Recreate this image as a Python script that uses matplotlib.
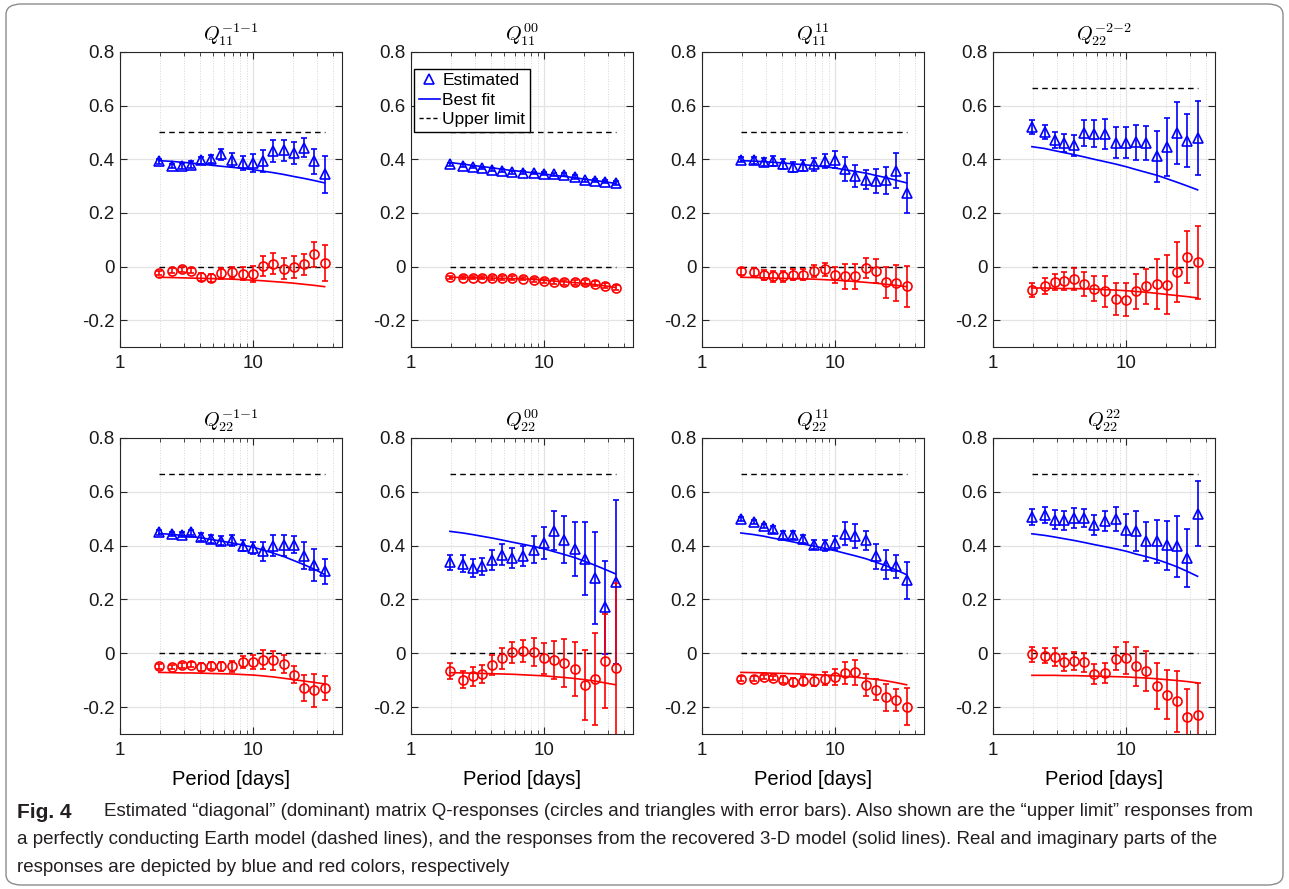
import matplotlib

matplotlib.use("Agg")
import matplotlib.pyplot as plt
from matplotlib.patches import FancyBboxPatch
from matplotlib.ticker import FixedLocator, FuncFormatter, NullFormatter

# periods of the estimated responses [days]
period = [1.96, 2.45, 2.91, 3.40, 4.09, 4.81, 5.75, 6.95, 8.36, 10.05, 11.8, 14.2, 17.1, 20.1, 23.9, 28.6, 34.4]

titles = [
    r"$Q_{11}^{-1{-}1}$", r"$Q_{11}^{00}$", r"$Q_{11}^{11}$", r"$Q_{22}^{-2{-}2}$",
    r"$Q_{22}^{-1{-}1}$", r"$Q_{22}^{00}$", r"$Q_{22}^{11}$", r"$Q_{22}^{22}$",
]

upper_limit = [0.5, 0.5, 0.5, 0.667, 0.667, 0.667, 0.667, 0.667]

# real part (blue triangles), one list per panel
re_est = [
    [0.392, 0.375, 0.375, 0.380, 0.396, 0.401, 0.418, 0.398, 0.387, 0.387, 0.393, 0.431, 0.433, 0.423, 0.443, 0.393, 0.344],
    [0.381, 0.376, 0.371, 0.367, 0.361, 0.357, 0.351, 0.350, 0.349, 0.346, 0.344, 0.342, 0.334, 0.321, 0.320, 0.316, 0.311],
    [0.398, 0.396, 0.390, 0.393, 0.383, 0.371, 0.376, 0.381, 0.393, 0.399, 0.365, 0.337, 0.324, 0.319, 0.321, 0.358, 0.274],
    [0.520, 0.501, 0.473, 0.460, 0.452, 0.498, 0.495, 0.495, 0.462, 0.462, 0.464, 0.460, 0.411, 0.445, 0.498, 0.470, 0.479],
    [0.449, 0.443, 0.441, 0.449, 0.433, 0.426, 0.418, 0.420, 0.400, 0.391, 0.379, 0.400, 0.401, 0.404, 0.363, 0.327, 0.304],
    [0.338, 0.333, 0.317, 0.323, 0.347, 0.367, 0.354, 0.361, 0.385, 0.410, 0.456, 0.422, 0.389, 0.351, 0.281, 0.171, 0.265],
    [0.499, 0.487, 0.472, 0.460, 0.441, 0.441, 0.426, 0.404, 0.401, 0.410, 0.445, 0.437, 0.420, 0.360, 0.329, 0.323, 0.271],
    [0.506, 0.515, 0.497, 0.494, 0.503, 0.503, 0.478, 0.491, 0.499, 0.459, 0.453, 0.416, 0.416, 0.401, 0.398, 0.354, 0.518],
]
re_err = [
    [0.008, 0.008, 0.010, 0.012, 0.012, 0.015, 0.022, 0.026, 0.027, 0.034, 0.040, 0.042, 0.040, 0.040, 0.035, 0.047, 0.068],
    [0.005, 0.005, 0.005, 0.005, 0.005, 0.005, 0.005, 0.005, 0.005, 0.006, 0.006, 0.006, 0.006, 0.006, 0.006, 0.006, 0.007],
    [0.010, 0.012, 0.015, 0.018, 0.018, 0.020, 0.020, 0.025, 0.027, 0.030, 0.045, 0.040, 0.035, 0.043, 0.052, 0.065, 0.076],
    [0.025, 0.025, 0.030, 0.034, 0.040, 0.047, 0.050, 0.057, 0.059, 0.059, 0.065, 0.064, 0.094, 0.109, 0.114, 0.098, 0.137],
    [0.008, 0.008, 0.008, 0.008, 0.015, 0.015, 0.017, 0.020, 0.020, 0.022, 0.035, 0.039, 0.038, 0.030, 0.050, 0.060, 0.046],
    [0.028, 0.031, 0.032, 0.032, 0.036, 0.040, 0.036, 0.038, 0.051, 0.058, 0.072, 0.087, 0.100, 0.135, 0.171, 0.173, 0.305],
    [0.008, 0.008, 0.008, 0.012, 0.015, 0.015, 0.015, 0.017, 0.020, 0.025, 0.042, 0.045, 0.035, 0.046, 0.053, 0.042, 0.068],
    [0.029, 0.030, 0.037, 0.035, 0.037, 0.034, 0.037, 0.037, 0.045, 0.059, 0.074, 0.073, 0.080, 0.092, 0.113, 0.107, 0.121],
]
re_fit = [
    [0.395, 0.392, 0.389, 0.386, 0.382, 0.378, 0.374, 0.370, 0.366, 0.361, 0.356, 0.350, 0.343, 0.336, 0.329, 0.321, 0.312],
    [0.388, 0.382, 0.377, 0.373, 0.368, 0.363, 0.358, 0.354, 0.349, 0.345, 0.340, 0.336, 0.331, 0.326, 0.321, 0.316, 0.310],
    [0.395, 0.393, 0.391, 0.389, 0.386, 0.383, 0.380, 0.376, 0.372, 0.367, 0.361, 0.355, 0.348, 0.340, 0.332, 0.322, 0.312],
    [0.447, 0.440, 0.432, 0.425, 0.417, 0.409, 0.400, 0.391, 0.382, 0.372, 0.362, 0.351, 0.340, 0.328, 0.315, 0.301, 0.286],
    [0.445, 0.442, 0.438, 0.434, 0.429, 0.423, 0.417, 0.410, 0.402, 0.394, 0.384, 0.372, 0.359, 0.345, 0.330, 0.313, 0.293],
    [0.453, 0.447, 0.441, 0.435, 0.428, 0.421, 0.413, 0.405, 0.397, 0.388, 0.378, 0.367, 0.355, 0.342, 0.328, 0.312, 0.295],
    [0.447, 0.441, 0.435, 0.428, 0.421, 0.414, 0.406, 0.398, 0.390, 0.381, 0.372, 0.362, 0.351, 0.339, 0.326, 0.310, 0.292],
    [0.444, 0.438, 0.432, 0.426, 0.419, 0.412, 0.404, 0.396, 0.388, 0.379, 0.369, 0.359, 0.348, 0.336, 0.322, 0.305, 0.286],
]

# imaginary part (red circles), one list per panel
im_est = [
    [-0.023, -0.015, -0.011, -0.015, -0.040, -0.042, -0.025, -0.022, -0.027, -0.027, 0.001, 0.011, -0.008, -0.002, 0.008, 0.045, 0.013],
    [-0.040, -0.041, -0.042, -0.042, -0.043, -0.043, -0.043, -0.045, -0.050, -0.054, -0.056, -0.059, -0.059, -0.059, -0.064, -0.071, -0.079],
    [-0.018, -0.021, -0.031, -0.037, -0.037, -0.031, -0.031, -0.018, -0.011, -0.033, -0.037, -0.037, -0.006, -0.017, -0.058, -0.062, -0.074],
    [-0.087, -0.073, -0.058, -0.054, -0.046, -0.064, -0.083, -0.093, -0.120, -0.124, -0.093, -0.074, -0.064, -0.067, -0.021, 0.035, 0.016],
    [-0.049, -0.052, -0.045, -0.042, -0.052, -0.046, -0.049, -0.049, -0.032, -0.032, -0.024, -0.026, -0.040, -0.079, -0.129, -0.138, -0.129],
    [-0.067, -0.098, -0.086, -0.077, -0.045, -0.019, 0.003, 0.007, 0.004, -0.019, -0.025, -0.037, -0.058, -0.118, -0.096, -0.030, -0.053],
    [-0.094, -0.094, -0.089, -0.091, -0.098, -0.106, -0.102, -0.102, -0.094, -0.088, -0.073, -0.071, -0.117, -0.135, -0.164, -0.173, -0.198],
    [-0.004, -0.010, -0.013, -0.034, -0.029, -0.034, -0.077, -0.074, -0.020, -0.018, -0.049, -0.065, -0.123, -0.154, -0.179, -0.238, -0.231],
]
im_err = [
    [0.008, 0.008, 0.008, 0.008, 0.015, 0.015, 0.020, 0.020, 0.025, 0.030, 0.037, 0.040, 0.040, 0.042, 0.040, 0.045, 0.068],
    [0.006, 0.006, 0.006, 0.006, 0.006, 0.007, 0.007, 0.007, 0.008, 0.008, 0.008, 0.009, 0.009, 0.009, 0.010, 0.010, 0.010],
    [0.012, 0.015, 0.018, 0.020, 0.020, 0.020, 0.020, 0.022, 0.025, 0.030, 0.045, 0.045, 0.037, 0.045, 0.058, 0.068, 0.077],
    [0.025, 0.030, 0.031, 0.033, 0.042, 0.044, 0.047, 0.056, 0.059, 0.061, 0.067, 0.065, 0.093, 0.109, 0.113, 0.098, 0.136],
    [0.008, 0.008, 0.008, 0.008, 0.015, 0.012, 0.017, 0.020, 0.022, 0.027, 0.035, 0.035, 0.033, 0.030, 0.050, 0.060, 0.045],
    [0.030, 0.032, 0.034, 0.033, 0.037, 0.039, 0.039, 0.041, 0.051, 0.058, 0.072, 0.089, 0.100, 0.131, 0.170, 0.175, 0.313],
    [0.008, 0.008, 0.008, 0.008, 0.012, 0.015, 0.017, 0.020, 0.023, 0.030, 0.042, 0.046, 0.041, 0.040, 0.051, 0.040, 0.068],
    [0.027, 0.028, 0.034, 0.033, 0.035, 0.035, 0.037, 0.038, 0.044, 0.059, 0.074, 0.074, 0.085, 0.091, 0.113, 0.107, 0.120],
]
im_fit = [
    [-0.040, -0.041, -0.042, -0.043, -0.044, -0.045, -0.046, -0.047, -0.049, -0.051, -0.053, -0.056, -0.059, -0.062, -0.066, -0.070, -0.075],
    [-0.040, -0.041, -0.042, -0.042, -0.043, -0.044, -0.045, -0.046, -0.048, -0.051, -0.054, -0.057, -0.060, -0.063, -0.067, -0.072, -0.078],
    [-0.040, -0.041, -0.042, -0.043, -0.044, -0.045, -0.046, -0.047, -0.049, -0.051, -0.053, -0.056, -0.059, -0.062, -0.066, -0.070, -0.075],
    [-0.080, -0.080, -0.081, -0.082, -0.082, -0.083, -0.084, -0.086, -0.088, -0.090, -0.093, -0.096, -0.100, -0.104, -0.108, -0.112, -0.117],
    [-0.071, -0.072, -0.073, -0.073, -0.074, -0.075, -0.076, -0.077, -0.079, -0.081, -0.084, -0.088, -0.093, -0.098, -0.103, -0.108, -0.114],
    [-0.072, -0.073, -0.074, -0.075, -0.076, -0.077, -0.078, -0.080, -0.082, -0.084, -0.087, -0.090, -0.094, -0.098, -0.103, -0.110, -0.117],
    [-0.071, -0.072, -0.073, -0.074, -0.075, -0.076, -0.077, -0.079, -0.081, -0.083, -0.086, -0.089, -0.093, -0.097, -0.102, -0.109, -0.117],
    [-0.082, -0.082, -0.082, -0.083, -0.083, -0.084, -0.085, -0.086, -0.087, -0.088, -0.090, -0.092, -0.095, -0.098, -0.101, -0.105, -0.110],
]

caption_lines = [
    "Estimated \u201cdiagonal\u201d (dominant) matrix Q-responses (circles and triangles with error bars). Also shown are the \u201cupper limit\u201d responses from",
    "a perfectly conducting Earth model (dashed lines), and the responses from the recovered 3-D model (solid lines). Real and imaginary parts of the",
    "responses are depicted by blue and red colors, respectively",
]

plt.rcParams["font.family"] = ["Liberation Sans", "DejaVu Sans"]
plt.rcParams["mathtext.fontset"] = "cm"

W, H = 1289, 889
fig = plt.figure(figsize=(W / 100, H / 100), dpi=100)

# rounded frame around the whole figure
frame = FancyBboxPatch(
    (6 / W, 4 / H), 1 - 12 / W, 1 - 8 / H,
    boxstyle="round,pad=0,rounding_size=0.012",
    transform=fig.transFigure, facecolor="none", edgecolor="#8c8c8c", lw=1.0,
)
fig.patches.append(frame)

lefts = [120, 411, 702, 993]
rows = [(52, 347), (438, 734)]
blue = (0, 0, 1)
red = (1, 0, 0)

for i in range(8):
    r, c = divmod(i, 4)
    top, bottom = rows[r]
    ax = fig.add_axes([lefts[c] / W, 1 - bottom / H, 222 / W, (bottom - top) / H])

    # grid like matlab
    ax.set_axisbelow(True)
    ax.yaxis.grid(True, color="#e3e3e3", lw=0.9)
    ax.xaxis.grid(True, which="major", color="#e3e3e3", lw=0.9)
    ax.xaxis.grid(True, which="minor", color="#d6d6d6", lw=0.7, linestyle=":")

    # upper limit
    ax.plot([period[0], period[-1]], [upper_limit[i]] * 2, "--", color="k", lw=1.0, dashes=(4, 3))
    ax.plot([period[0], period[-1]], [0, 0], "--", color="k", lw=1.0, dashes=(4, 3))

    # estimated responses
    ax.errorbar(period, re_est[i], yerr=re_err[i], fmt="^", color=blue, mfc="none", mec=blue,
                ms=6.5, mew=1.2, elinewidth=1.2, capsize=2, capthick=1.0, zorder=3)
    ax.errorbar(period, im_est[i], yerr=im_err[i], fmt="o", color=red, mfc="none", mec=red,
                ms=6.5, mew=1.2, elinewidth=1.2, capsize=2, capthick=1.0, zorder=3)

    # best fit
    ax.plot(period, re_fit[i], color=blue, lw=1.2, zorder=4)
    ax.plot(period, im_fit[i], color=red, lw=1.2, zorder=4)

    ax.set_xscale("log")
    ax.set_xlim(1, 46.5)
    ax.set_ylim(-0.3, 0.8)
    ax.xaxis.set_major_locator(FixedLocator([1, 10]))
    ax.xaxis.set_minor_locator(FixedLocator([2, 3, 4, 5, 6, 7, 8, 9, 20, 30, 40]))
    ax.xaxis.set_major_formatter(FuncFormatter(lambda v, p: f"{v:g}"))
    ax.xaxis.set_minor_formatter(NullFormatter())
    ax.set_yticks([-0.2, 0, 0.2, 0.4, 0.6, 0.8])
    ax.yaxis.set_major_formatter(FuncFormatter(lambda v, p: f"{v:g}"))

    ax.tick_params(which="both", direction="in", top=True, right=True, labelsize=13.5,
                   color="#262626", labelcolor="#1a1a1a")
    ax.tick_params(which="major", length=5, width=0.8)
    ax.tick_params(axis="y", which="major", pad=4)
    ax.tick_params(axis="x", which="major", pad=6)
    ax.tick_params(which="minor", length=3, width=0.6)
    for s in ax.spines.values():
        s.set_color("#262626")
        s.set_linewidth(0.8)

    ax.set_title(titles[i], fontsize=14.5, pad=8)
    if r == 1:
        ax.set_xlabel("Period [days]", fontsize=14.5, labelpad=8)

    if i == 1:
        h_est = plt.Line2D([], [], marker="^", ls="none", color=blue, mfc="none", ms=6.5, mew=1.2)
        h_fit = plt.Line2D([], [], color=blue, lw=1.2)
        h_up = plt.Line2D([], [], color="k", ls="--", lw=1.0, dashes=(3, 2))
        ax.legend([h_est, h_fit, h_up], ["Estimated", "Best fit", "Upper limit"],
                  loc="upper left", bbox_to_anchor=(0.0, 0.955), fontsize=12.5,
                  handlelength=1.2, handletextpad=0.15, borderpad=0.25, labelspacing=0.25,
                  borderaxespad=0.2, fancybox=False, edgecolor="k", framealpha=1)

# caption
cap_font = ["Liberation Sans Narrow", "Liberation Sans"]
ys = [812, 840, 867]
fig.text(17 / W, 1 - ys[0] / H, "Fig. 4", fontsize=15, fontweight="bold", family=cap_font,
         va="center", color="#231f20")
fig.text(104 / W, 1 - ys[0] / H, caption_lines[0], fontsize=13.5, family=cap_font,
         va="center", color="#231f20")
for k in (1, 2):
    fig.text(17 / W, 1 - ys[k] / H, caption_lines[k], fontsize=13.5, family=cap_font,
             va="center", color="#231f20")

plt.savefig("out.png", dpi=100)
